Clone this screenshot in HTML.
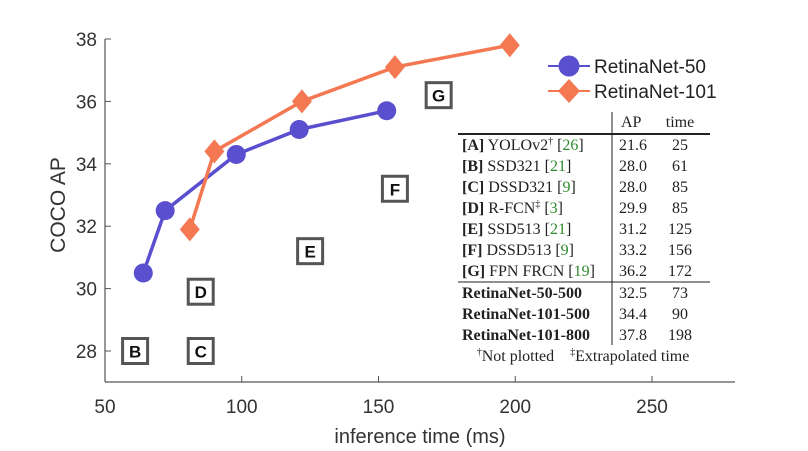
<!DOCTYPE html>
<html><head><meta charset="utf-8"><style>
body{margin:0;background:#fff;}
svg{display:block;font-family:"Liberation Sans",sans-serif;}
.tb{font-family:"Liberation Serif",serif;font-size:16px;fill:#222;}
.g{fill:#2e8b2e;}
</style></head><body>
<svg id="chart" width="808" height="451">
<g id="axes"></g><g id="marks"></g><g id="boxes"></g>
<g>
 <line x1="548" y1="66" x2="590" y2="66" stroke="#5a4fcf" stroke-width="2"/>
 <circle cx="569" cy="66" r="10.5" fill="#5a4fcf"/>
 <text x="594" y="73" font-size="19" fill="#222">RetinaNet-50</text>
 <line x1="548" y1="91" x2="590" y2="91" stroke="#f47852" stroke-width="2"/>
 <polygon points="569,79 580,91 569,103 558,91" fill="#f47852"/>
 <text x="594" y="98" font-size="19" fill="#222">RetinaNet-101</text>
</g>
<g class="tb">
 <line x1="612" y1="112" x2="612" y2="345" stroke="#222" stroke-width="1"/>
 <line x1="458" y1="134" x2="710" y2="134" stroke="#222" stroke-width="2"/>
 <line x1="458" y1="282" x2="710" y2="282" stroke="#222" stroke-width="1"/>
 <text x="621" y="127">AP</text><text x="680" y="127" text-anchor="middle">time</text>
 <text x="462" y="150"><tspan font-weight="bold">[A]</tspan> YOLOv2<tspan font-size="10" dy="-6">†</tspan><tspan dy="6"> [</tspan><tspan class="g">26</tspan>]</text>
 <text x="462" y="171"><tspan font-weight="bold">[B]</tspan> SSD321 [<tspan class="g">21</tspan>]</text>
 <text x="462" y="192"><tspan font-weight="bold">[C]</tspan> DSSD321 [<tspan class="g">9</tspan>]</text>
 <text x="462" y="213"><tspan font-weight="bold">[D]</tspan> R-FCN<tspan font-size="10" dy="-6">‡</tspan><tspan dy="6"> [</tspan><tspan class="g">3</tspan>]</text>
 <text x="462" y="234"><tspan font-weight="bold">[E]</tspan> SSD513 [<tspan class="g">21</tspan>]</text>
 <text x="462" y="255"><tspan font-weight="bold">[F]</tspan> DSSD513 [<tspan class="g">9</tspan>]</text>
 <text x="462" y="276"><tspan font-weight="bold">[G]</tspan> FPN FRCN [<tspan class="g">19</tspan>]</text>
 <text x="462" y="298" font-weight="bold">RetinaNet-50-500</text>
 <text x="462" y="319" font-weight="bold">RetinaNet-101-500</text>
 <text x="462" y="340" font-weight="bold">RetinaNet-101-800</text>
 <g id="tvals"></g>
 <text x="583" y="361" text-anchor="middle" xml:space="preserve"><tspan font-size="10" dy="-6">†</tspan><tspan dy="6">Not plotted    </tspan><tspan font-size="10" dy="-6">‡</tspan><tspan dy="6">Extrapolated time</tspan></text>
</g>
</svg>
<script>
const xTicks=[50,100,150,200,250];
const yTicks=[28,30,32,34,36,38];
const r50Time=[64,72,98,121,153];
const r50AP=[30.5,32.5,34.3,35.1,35.7];
const r101Time=[81,90,122,156,198];
const r101AP=[31.9,34.4,36.0,37.1,37.8];
const boxLabels=["B","C","D","E","F","G"];
const boxTime=[61,85,85,125,156,172];
const boxAP=[28.0,28.0,29.9,31.2,33.2,36.2];
const tableAP=["21.6","28.0","28.0","29.9","31.2","33.2","36.2","32.5","34.4","37.8"];
const tableTime=["25","61","85","85","125","156","172","73","90","198"];
const NS="http://www.w3.org/2000/svg";
const X=v=>105+(v-50)*2.735, Y=v=>39+(38-v)*31.2;
function mk(t,a,p){const e=document.createElementNS(NS,t);for(const k in a)e.setAttribute(k,a[k]);p.appendChild(e);return e;}
const ax=document.getElementById('axes');
const xa=mk('line',{x1:105,y1:382,x2:735,y2:382,stroke:'#555','stroke-width':1.2},ax);


const ya=mk('line',{x1:105,y1:39,x2:105,y2:382,stroke:'#555','stroke-width':1.2},ax);


xTicks.forEach(t=>{mk('line',{x1:X(t),y1:382,x2:X(t),y2:376,stroke:'#555'},ax);
 const e=mk('text',{x:X(t),y:413,'text-anchor':'middle','font-size':19,fill:'#333'},ax);e.textContent=t;
 
 });
yTicks.forEach(t=>{mk('line',{x1:105,y1:Y(t),x2:111,y2:Y(t),stroke:'#555'},ax);
 const e=mk('text',{x:97,y:Y(t)+7,'text-anchor':'end','font-size':19,fill:'#333'},ax);e.textContent=t;
 
 });
const xt=mk('text',{x:420,y:443,'text-anchor':'middle','font-size':20,fill:'#333'},ax);xt.textContent='inference time (ms)';


const yt=mk('text',{x:0,y:0,'text-anchor':'middle','font-size':21,fill:'#333',transform:'translate(65,205) rotate(-90)'},ax);yt.textContent='COCO AP';


const m=document.getElementById('marks');
function series(ts,as,col,shape,name){
 const pl=mk('polyline',{points:ts.map((t,i)=>X(t)+','+Y(as[i])).join(' '),fill:'none',stroke:col,'stroke-width':3.5},m);
 
 
 ts.forEach((t,i)=>{const x=X(t),y=Y(as[i]);let e;
  if(shape==='c')e=mk('circle',{cx:x,cy:y,r:9.5,fill:col},m);
  else e=mk('polygon',{points:`${x},${y-12} ${x+10},${y} ${x},${y+12} ${x-10},${y}`,fill:col},m);
  
  });
}
series(r50Time,r50AP,'#5a4fcf','c','retinanet-50');
series(r101Time,r101AP,'#f47852','d','retinanet-101');
const b=document.getElementById('boxes');
boxLabels.forEach((l,i)=>{const x=X(boxTime[i]),y=Y(boxAP[i]);
 const r=mk('rect',{x:x-12.5,y:y-12.5,width:25,height:25,fill:'#fff',stroke:'#555','stroke-width':3},b);
 
 
 const t=mk('text',{x:x,y:y+6.5,'text-anchor':'middle','font-size':17,'font-weight':'bold',fill:'#111'},b);t.textContent=l;});
const tv=document.getElementById('tvals');
const rowY=[150,171,192,213,234,255,276,298,319,340];
tableAP.forEach((v,i)=>{const a=mk('text',{x:619,y:rowY[i]},tv);a.textContent=v;
 const c=mk('text',{x:680,y:rowY[i],'text-anchor':'middle'},tv);c.textContent=tableTime[i];});
</script>
</body></html>
